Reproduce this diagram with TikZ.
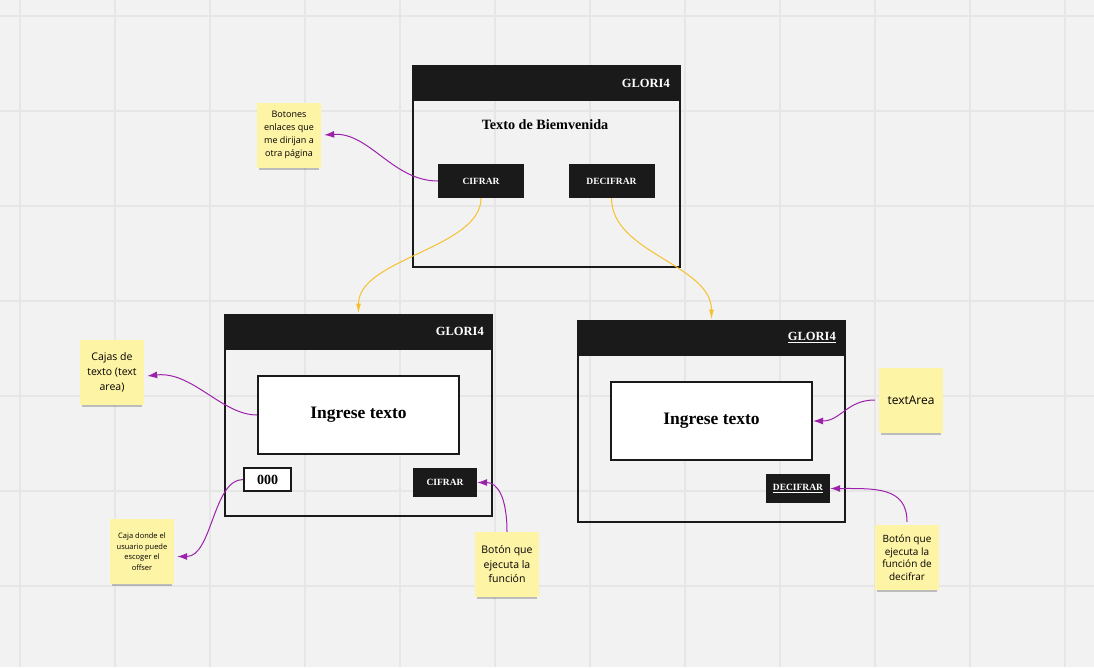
\documentclass[tikz,border=0pt]{standalone}
\usepackage{fontspec}
\setmainfont{Liberation Serif}
\newfontfamily\notefont{Open Sans}
\usetikzlibrary{arrows.meta,shadows}
\definecolor{ink}{HTML}{1A1A1A}
\definecolor{paper}{HTML}{F2F2F2}
\definecolor{gridline}{HTML}{E6E6E6}
\definecolor{sticky}{HTML}{FEF4A6}
\definecolor{plum}{HTML}{9C22AC}
\definecolor{amber}{HTML}{F5C22E}

\begin{document}
\begin{tikzpicture}[x=1pt, y=-1pt,
        win/.style={draw=ink, line width=2pt, inner sep=0pt, minimum width=267, minimum height=201},
        bar/.style={draw=ink, fill=ink, line width=2pt, inner sep=0pt, minimum width=267, minimum height=34, anchor=north},
        title/.style={text=white, font=\bfseries\fontsize{12.5}{15}\selectfont, inner sep=0pt, anchor=east},
        btn/.style={fill=ink, text=white, inner sep=0pt, font=\bfseries\fontsize{9.5}{11}\selectfont},
        area/.style={draw=ink, fill=white, line width=2pt, inner sep=0pt, minimum width=201, minimum height=78, font=\bfseries\fontsize{17.5}{20}\selectfont},
        note/.style={fill=sticky, inner sep=1pt, align=center, minimum width=64, minimum height=65,
            drop shadow={shadow xshift=0pt, shadow yshift=-5pt, shadow scale=.93, fill=black, opacity=.22}},
        link/.style={draw=plum, line width=1pt, -{Latex[length=10pt, width=7pt]}},
        flow/.style={draw=amber, line width=1pt, -{Latex[length=10pt, width=5pt]}},
        ]
        % Canvas and grid
        \fill[paper] (0,0) rectangle (1094,667);
        \useasboundingbox (0,0) rectangle (1094,667);
        \foreach \gx in {20,115,...,1065} {
            \draw[gridline, line width=1.2pt] (\gx,0) -- (\gx,667);
        }
        \foreach \gy in {16,111,...,586} {
            \draw[gridline, line width=1.2pt] (0,\gy) -- (1094,\gy);
        }

        % Home page
        \node[win] (winA) at (546.5,166.5) {};
        \node[bar] (barA) at (winA.north) {};
        \node[title] (nameA) at ([xshift=-11pt]barA.east) {GLORI4};
        \node[font=\bfseries\fontsize{14.2}{16}\selectfont] (welA) at (545,125) {Texto de Biemvenida};
        \node[btn, minimum width=86, minimum height=34] (cifA) at (481,181) {CIFRAR};
        \node[btn, minimum width=86, minimum height=34] (decA) at (611.5,181) {DECIFRAR};

        % Cipher page
        \node[win] (winB) at (358.5,415) {};
        \node[bar] (barB) at (winB.north) {};
        \node[title] (nameB) at ([xshift=-9pt]barB.east) {GLORI4};
        \node[area] (areaB) at (358.5,415) {Ingrese texto};
        \node[draw=ink, fill=white, line width=2pt, inner sep=0pt, minimum width=47, minimum height=23,
            font=\bfseries\fontsize{14}{16}\selectfont] (offB) at (267.5,479.5) {000};
        \node[btn, minimum width=64, minimum height=29] (cifB) at (445,482.5) {CIFRAR};

        % Decipher page
        \node[win] (winC) at (711.5,421) {};
        \node[bar] (barC) at (winC.north) {};
        \node[title] (nameC) at ([xshift=-10pt]barC.east) {\underline{GLORI4}};
        \node[area] (areaC) at (711.5,421) {Ingrese texto};
        \node[btn, minimum width=64, minimum height=29] (decC) at (798,488.5) {\underline{DECIFRAR}};

        % Sticky notes
        \node[note, font=\notefont\fontsize{9}{13}\selectfont] (noteA) at (289,135) {Botones\\enlaces que\\me dirijan a\\otra página};
        \node[note, font=\notefont\fontsize{10.5}{15}\selectfont] (noteB) at (112,372) {Cajas de\\texto (text\\area)};
        \node[note, font=\notefont\fontsize{7.5}{10.5}\selectfont] (noteC) at (142,551.5) {Caja donde el\\usuario puede\\escoger el\\offser};
        \node[note, font=\notefont\fontsize{10.5}{14.5}\selectfont] (noteD) at (507,564.5) {Botón que\\ejecuta la\\función};
        \node[note, font=\notefont\fontsize{12}{14}\selectfont] (noteE) at (911,400) {textArea};
        \node[note, font=\notefont\fontsize{10}{12.5}\selectfont] (noteF) at (907,557.5) {Botón que\\ejecuta la\\función de\\decifrar};

        % Page flow
        \draw[flow] (cifA.south) .. controls +(0,50) and +(0,-55) .. (barB.north);
        \draw[flow] (decA.south) .. controls +(0,55) and +(0,-55) .. (barC.north);

        % Note pointers
        \draw[link] (cifA.west) .. controls +(-45,0) and +(45,-3) .. ([xshift=3pt]noteA.east);
        \draw[link] (areaB.west) .. controls +(-35,0) and +(45,-5) .. ([xshift=3pt, yshift=-4pt]noteB.east);
        \draw[link] (offB.west) .. controls +(-30,0) and +(35,0) .. ([xshift=3pt, yshift=-5pt]noteC.east);
        \draw[link] (noteD.north) .. controls +(0,-35) and +(20,0) .. (cifB.east);
        \draw[link] ([xshift=-4pt]noteE.west) .. controls +(-28,0) and +(28,0) .. (areaC.east);
        \draw[link] ([yshift=3pt]noteF.north) .. controls +(0,-35) and +(45,0) .. (decC.east);
    \end{tikzpicture}
\end{document}
